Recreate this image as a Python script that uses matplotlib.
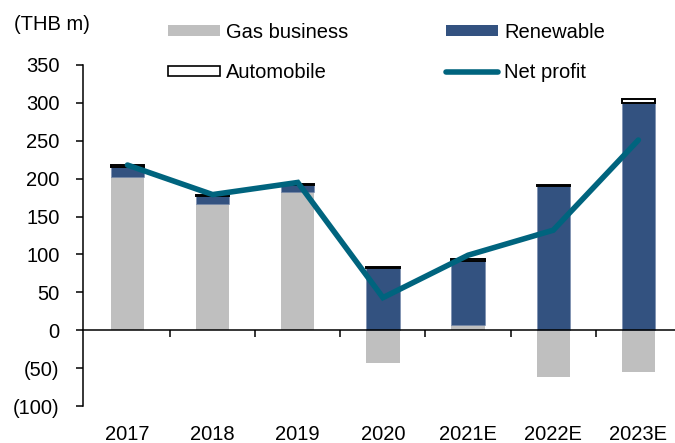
import numpy as np
import matplotlib
matplotlib.use('Agg')
import matplotlib.pyplot as plt
from matplotlib.lines import Line2D
from matplotlib.patches import Patch

plt.rcParams['font.family'] = ['Liberation Sans', 'DejaVu Sans']

years = ['2017', '2018', '2019', '2020', '2021E', '2022E', '2023E']
gas = [202, 166, 182, -43, 7, -62, -55]
renewable = [14, 11, 9, 82, 85, 190, 300]
automobile = [2, 2, 2, 2, 2, 2, 5]
net_profit = [218, 179, 195, 43, 99, 132, 251]
yticks = [-100, -50, 0, 50, 100, 150, 200, 250, 300, 350]

gas_c = '#BFBFBF'
ren_c = '#335280'
net_c = '#00647E'
fs = 14.5

fig = plt.figure(figsize=(6.75, 4.43), dpi=100)
ax = fig.add_axes([83 / 675, 37 / 443, 592 / 675, 341 / 443])

x = np.arange(len(years))
w = 0.39
gas = np.array(gas)
renewable = np.array(renewable)
automobile = np.array(automobile)

# renewable sits on top of gas when gas is positive, otherwise from zero
ren_bottom = np.where(gas > 0, gas, 0)
auto_bottom = ren_bottom + renewable

ax.bar(x, gas, w, color=gas_c, zorder=2)
ax.bar(x, renewable, w, bottom=ren_bottom, color=ren_c, edgecolor='#7387AA', linewidth=0.4, zorder=2)
ax.bar(x, automobile, w, bottom=auto_bottom, facecolor='white', edgecolor='black', linewidth=1.4, zorder=3)
ax.plot(x, net_profit, color=net_c, linewidth=4, solid_capstyle='round', solid_joinstyle='miter', zorder=4)

ax.set_xlim(-0.522, 6.43)
ax.set_ylim(-100, 350)

for s in ['top', 'right']:
    ax.spines[s].set_visible(False)
ax.spines['bottom'].set_position(('data', 0))
ax.spines['left'].set_linewidth(1.1)
ax.spines['bottom'].set_linewidth(1.1)

ax.set_yticks(yticks)
ax.set_yticklabels([f'({-v})' if v < 0 else f'{v}' for v in yticks], fontsize=fs)
ax.tick_params(axis='y', direction='out', length=5, width=1.1, pad=12)

# ticks between categories, year labels under the plot
ax.set_xticks(x[:-1] + 0.5)
ax.set_xticklabels([])
ax.tick_params(axis='x', direction='out', length=5, width=1.1)
for xi, lab in zip(x, years):
    ax.text(xi, -0.085, lab, transform=ax.get_xaxis_transform(), ha='center', va='center', fontsize=fs)

fig.text(14 / 675, 1 - 25 / 443, '(THB m)', fontsize=fs, ha='left', va='center')

left_handles = [
    Patch(facecolor=gas_c, edgecolor='none', label='Gas business'),
    Patch(facecolor='white', edgecolor='black', linewidth=1.2, label='Automobile'),
]
right_handles = [
    Patch(facecolor=ren_c, edgecolor='none', label='Renewable'),
    Line2D([0], [0], color=net_c, linewidth=4, solid_capstyle='round', label='Net profit'),
]
leg_kw = dict(loc='upper left', frameon=False, fontsize=fs, handlelength=2.6, handleheight=0.45,
              handletextpad=0.3, labelspacing=1.05, borderpad=0, borderaxespad=0)
fig.legend(handles=left_handles, bbox_to_anchor=(168 / 675, 1 - 23 / 443), **leg_kw)
fig.legend(handles=right_handles, bbox_to_anchor=(446 / 675, 1 - 23 / 443), **leg_kw)

fig.savefig('out.png', dpi=100)
